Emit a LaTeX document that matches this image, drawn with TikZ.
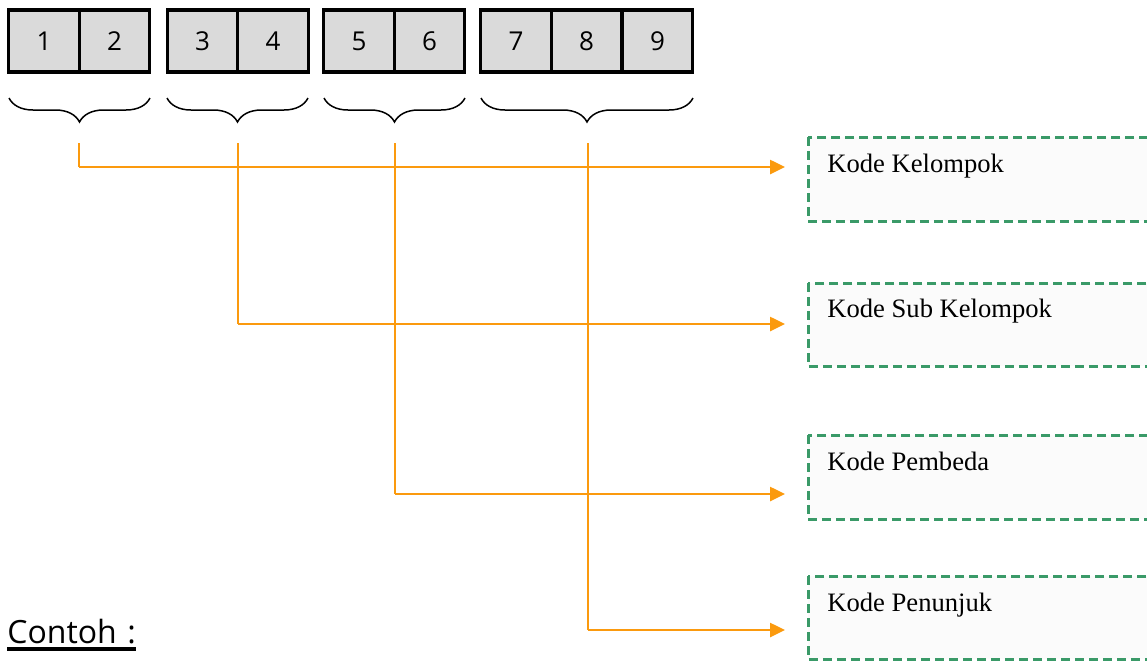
\documentclass[tikz,border=0pt]{standalone}
\usepackage{fontspec}
\setmainfont{Liberation Serif}
\newfontfamily\digitfont{Open Sans}
\usetikzlibrary{decorations.pathreplacing,arrows.meta}
\definecolor{org}{HTML}{FB9A0E}
\definecolor{grn}{HTML}{3A9A68}
\definecolor{cellgray}{HTML}{DADADA}
\definecolor{boxfill}{HTML}{FBFBFB}
\begin{document}
\begin{tikzpicture}[x=0.5pt,y=-0.5pt,
  cell/.style={draw=black,fill=cellgray,line width=1.6pt,minimum width=35.3pt,minimum height=31pt,inner sep=0pt,outer sep=0pt,font=\digitfont\fontsize{13}{15}\selectfont},
  bracedeco/.style={draw=black,line width=0.75pt,decorate,decoration={brace,amplitude=12pt}},
  vline/.style={draw=org,line width=0.85pt},
  hline/.style={draw=org,line width=1.3pt,-{Triangle[length=7.5pt,width=7pt]}},
  infobox/.style={draw=grn,fill=boxfill,line width=1.5pt,dash pattern=on 4.5pt off 2.5pt},
  infotext/.style={anchor=base west,inner sep=0pt,font=\fontsize{13.3}{16}\selectfont}]
\useasboundingbox (0,0) rectangle (1147,661);
% cells
\node[cell] (c1) at (44,41) {1};
\node[cell] (c2) at (114.5,41) {2};
\node[cell] (c3) at (202.5,41) {3};
\node[cell] (c4) at (273,41) {4};
\node[cell] (c5) at (359,41) {5};
\node[cell] (c6) at (429.5,41) {6};
\node[cell] (c7) at (516,41) {7};
\node[cell] (c8) at (586.5,41) {8};
\node[cell] (c9) at (657.5,41) {9};
% braces
\coordinate (b1r) at (150,98); \coordinate (b1l) at (9,98);
\coordinate (b2r) at (308,98); \coordinate (b2l) at (167,98);
\coordinate (b3r) at (465,98); \coordinate (b3l) at (324,98);
\coordinate (b4r) at (693,98); \coordinate (b4l) at (481,98);
\draw[bracedeco] (b1r) -- (b1l);
\draw[bracedeco] (b2r) -- (b2l);
\draw[bracedeco] (b3r) -- (b3l);
\draw[bracedeco] (b4r) -- (b4l);
% info boxes
\draw[infobox] (808,137) rectangle (1160,221);
\draw[infobox] (808,283) rectangle (1160,366);
\draw[infobox] (808,435) rectangle (1160,519);
\draw[infobox] (808,576) rectangle (1160,659);
\node[infotext] (t1) at (827,172) {Kode Kelompok};
\node[infotext] (t2) at (827,317) {Kode Sub Kelompok};
\node[infotext] (t3) at (827,470) {Kode Pembeda};
\node[infotext] (t4) at (827,611) {Kode Penunjuk};
% connectors
\coordinate (s1) at (79,143);  \coordinate (k1) at (79,167);  \coordinate (e1) at (785,167);
\coordinate (s2) at (238,143); \coordinate (k2) at (238,324); \coordinate (e2) at (785,324);
\coordinate (s3) at (395,143); \coordinate (k3) at (395,494); \coordinate (e3) at (785,494);
\coordinate (s4) at (588,143); \coordinate (k4) at (588,630); \coordinate (e4) at (785,630);
\draw[vline] (s1) -- (k1); \draw[hline] (k1) -- (e1);
\draw[vline] (s2) -- (k2); \draw[hline] (k2) -- (e2);
\draw[vline] (s3) -- (k3); \draw[hline] (k3) -- (e3);
\draw[vline] (s4) -- (k4); \draw[hline] (k4) -- (e4);
% Contoh
\node[anchor=base west,inner sep=0pt,font=\digitfont\fontsize{16}{19}\selectfont] (contoh) at (7,643) {Contoh\,\,:};
\draw[line width=2pt] ([yshift=-3.2pt]contoh.base west) -- ([yshift=-3.2pt]contoh.base east);
\end{tikzpicture}
\end{document}
